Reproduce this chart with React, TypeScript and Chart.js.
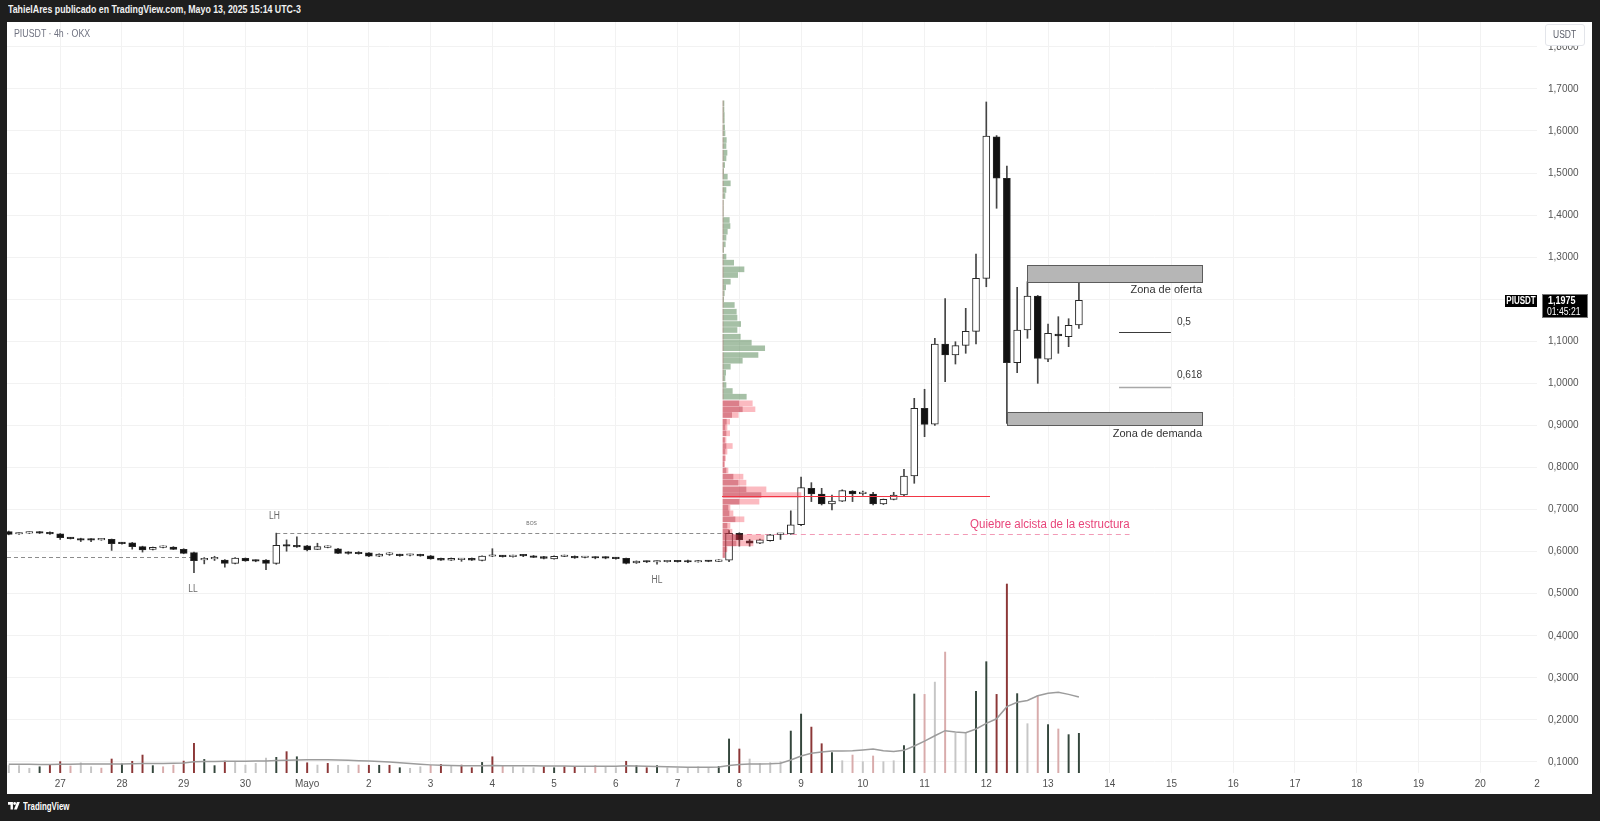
import React, { useEffect, useRef } from 'react';
import { Chart, registerables } from 'chart.js';

Chart.register(...registerables);

const SANS = "'Liberation Sans', Arial, sans-serif";

// ---------- axes ----------
// time axis: days counted from 27 Apr 2025 00:00 (UTC-3)
const xTickDays = [0, 1, 2, 3, 4, 5, 6, 7, 8, 9, 10, 11, 12, 13, 14, 15, 16, 17, 18, 19, 20, 21, 22, 23, 23.92];
const xTickLabels = ['27', '28', '29', '30', 'Mayo', '2', '3', '4', '5', '6', '7', '8', '9', '10', '11', '12', '13', '14', '15', '16', '17', '18', '19', '20', '2'];
const yTickValues = [0.1, 0.2, 0.3, 0.4, 0.5, 0.6, 0.7, 0.8, 0.9, 1.0, 1.1, 1.2, 1.3, 1.4, 1.5, 1.6, 1.7, 1.8];
const X_MIN = -0.8617;
const X_MAX = 23.9197;
const Y_MIN = 0.07385;
const Y_MAX = 1.85898;
const VOL_AXIS_MAX = 397.4;

// ---------- 4h candles (oldest first) ----------
const FIRST_CANDLE_DAY = -5 / 6; // 26 Apr 20:00
const CANDLE_STEP_DAY = 1 / 6; // 4 hours

const open = [
  0.6475, 0.6420, 0.6440, 0.6470, 0.6460, 0.6425, 0.6325, 0.6310, 0.6290, 0.6280,
  0.6290, 0.6210, 0.6210, 0.6120, 0.6055, 0.6100, 0.6110, 0.6055, 0.5975, 0.5805,
  0.5830, 0.5800, 0.5720, 0.5840, 0.5795, 0.5800, 0.5720, 0.6150, 0.6140, 0.6140,
  0.6055, 0.6100, 0.6070, 0.5985, 0.5980, 0.5970, 0.5890, 0.5935, 0.5925, 0.5915,
  0.5930, 0.5900, 0.5840, 0.5800, 0.5810, 0.5840, 0.5790, 0.5890, 0.5900, 0.5880,
  0.5915, 0.5895, 0.5880, 0.5830, 0.5885, 0.5890, 0.5860, 0.5865, 0.5860, 0.5850,
  0.5840, 0.5735, 0.5770, 0.5755, 0.5760, 0.5775, 0.5790, 0.5755, 0.5775, 0.5770,
  0.5800, 0.6435, 0.6260, 0.6200, 0.6260, 0.6410, 0.6420, 0.6640, 0.7505, 0.7370,
  0.7133, 0.7200, 0.7440, 0.7380, 0.7370, 0.7133, 0.7244, 0.7347, 0.7800, 0.9407,
  0.9030, 1.0936, 1.0676, 1.0904, 1.1237, 1.2497, 1.5863, 1.4875, 1.0492, 1.1268,
  1.2076, 1.0573, 1.1173, 1.1109, 1.1387,
];
const high = [
  0.6490, 0.6450, 0.6470, 0.6480, 0.6470, 0.6430, 0.6340, 0.6320, 0.6310, 0.6310,
  0.6300, 0.6220, 0.6220, 0.6130, 0.6110, 0.6140, 0.6120, 0.6070, 0.5990, 0.5860,
  0.5890, 0.5810, 0.5860, 0.5850, 0.5805, 0.5810, 0.6440, 0.6280, 0.6350, 0.6150,
  0.6200, 0.6140, 0.6080, 0.6000, 0.6000, 0.5980, 0.5950, 0.5980, 0.5940, 0.5940,
  0.5940, 0.5910, 0.5850, 0.5850, 0.5840, 0.5850, 0.5900, 0.6070, 0.5910, 0.5920,
  0.5930, 0.5910, 0.5890, 0.5900, 0.5920, 0.5900, 0.5890, 0.5880, 0.5880, 0.5860,
  0.5850, 0.5780, 0.5780, 0.5780, 0.5790, 0.5790, 0.5800, 0.5790, 0.5790, 0.5810,
  0.6500, 0.6450, 0.6290, 0.6300, 0.6410, 0.6435, 0.6970, 0.7770, 0.7640, 0.7505,
  0.7347, 0.7470, 0.7450, 0.7440, 0.7410, 0.7250, 0.7410, 0.7957, 0.9645, 0.9860,
  1.1070, 1.2017, 1.0990, 1.1784, 1.3074, 1.6689, 1.5890, 1.5167, 1.2283, 1.2417,
  1.2090, 1.1410, 1.1585, 1.1537, 1.2417,
];
const low = [
  0.6400, 0.6410, 0.6430, 0.6430, 0.6410, 0.6290, 0.6300, 0.6240, 0.6240, 0.6270,
  0.6030, 0.6180, 0.6060, 0.5990, 0.6040, 0.6090, 0.6050, 0.5950, 0.5500, 0.5710,
  0.5790, 0.5630, 0.5710, 0.5770, 0.5760, 0.5570, 0.5700, 0.6010, 0.6100, 0.6020,
  0.6050, 0.6090, 0.5950, 0.5940, 0.5940, 0.5880, 0.5880, 0.5910, 0.5890, 0.5900,
  0.5890, 0.5820, 0.5790, 0.5790, 0.5770, 0.5790, 0.5780, 0.5880, 0.5870, 0.5870,
  0.5880, 0.5860, 0.5830, 0.5820, 0.5880, 0.5840, 0.5850, 0.5830, 0.5830, 0.5820,
  0.5710, 0.5720, 0.5740, 0.5700, 0.5750, 0.5750, 0.5740, 0.5750, 0.5760, 0.5765,
  0.5760, 0.6130, 0.6130, 0.6190, 0.6250, 0.6290, 0.6410, 0.6620, 0.7190, 0.7110,
  0.6990, 0.7190, 0.7190, 0.7340, 0.7110, 0.7120, 0.7230, 0.7330, 0.7625, 0.8733,
  0.9000, 1.0040, 1.0460, 1.0715, 1.0936, 1.2297, 1.4162, 0.9050, 1.0254, 1.1072,
  1.0001, 1.0516, 1.0715, 1.0872, 1.1309,
];
const close = [
  0.6412, 0.6435, 0.6455, 0.6440, 0.6420, 0.6330, 0.6310, 0.6270, 0.6275, 0.6295,
  0.6190, 0.6190, 0.6120, 0.6040, 0.6100, 0.6120, 0.6055, 0.5960, 0.5785, 0.5825,
  0.5845, 0.5720, 0.5850, 0.5780, 0.5775, 0.5720, 0.6150, 0.6130, 0.6115, 0.6040,
  0.6120, 0.6120, 0.5960, 0.5960, 0.5950, 0.5890, 0.5940, 0.5955, 0.5905, 0.5935,
  0.5900, 0.5830, 0.5800, 0.5840, 0.5830, 0.5800, 0.5895, 0.5905, 0.5880, 0.5915,
  0.5900, 0.5865, 0.5840, 0.5890, 0.5905, 0.5850, 0.5875, 0.5850, 0.5845, 0.5835,
  0.5720, 0.5775, 0.5755, 0.5770, 0.5775, 0.5760, 0.5755, 0.5775, 0.5765, 0.5795,
  0.6435, 0.6280, 0.6200, 0.6280, 0.6400, 0.6430, 0.6640, 0.7520, 0.7370, 0.7133,
  0.7204, 0.7450, 0.7370, 0.7395, 0.7133, 0.7244, 0.7347, 0.7798, 0.9407, 0.9027,
  1.0936, 1.0676, 1.0896, 1.1237, 1.2497, 1.5880, 1.4875, 1.0492, 1.1268, 1.2076,
  1.0596, 1.1190, 1.1126, 1.1380, 1.1975,
];

// volume (millions) and its tone in the picture
const volume = [
  4.0, 3.9, 2.5, 3.3, 4.2, 6.0, 3.7, 5.4, 3.3, 2.6,
  7.4, 4.8, 6.2, 9.5, 3.9, 3.3, 4.2, 6.3, 15.7, 7.2,
  3.9, 6.3, 6.2, 4.2, 5.1, 7.9, 8.3, 11.3, 8.6, 5.4,
  4.2, 5.1, 4.1, 4.1, 4.2, 4.1, 4.1, 4.1, 2.8, 2.5,
  3.3, 4.1, 4.6, 3.7, 4.2, 2.8, 5.6, 8.6, 3.9, 3.3,
  2.8, 2.8, 3.3, 2.8, 3.3, 3.3, 2.8, 3.9, 3.2, 2.8,
  6.2, 3.9, 2.8, 3.9, 2.8, 2.5, 2.8, 3.3, 2.8, 3.5,
  18.0, 12.7, 7.4, 5.0, 5.5, 6.0, 22.2, 31.2, 24.3, 15.5,
  10.8, 6.5, 9.5, 6.0, 9.0, 6.0, 6.5, 14.5, 41.8, 41.6,
  48.1, 64.0, 21.0, 21.3, 43.2, 58.9, 41.6, 100.0, 42.0, 26.1,
  41.1, 25.6, 23.3, 20.3, 21.0,
];
const volumeTone = [
  'l', 'l', 'l', 'd', 'r', 'r', 'p', 'l', 'l', 'p',
  'r', 'd', 'r', 'r', 'd', 'p', 'p', 'r', 'r', 'd',
  'd', 'r', 'l', 'l', 'l', 'l', 'd', 'r', 'd', 'r',
  'l', 'r', 'l', 'l', 'p', 'r', 'd', 'r', 'd', 'l',
  'l', 'p', 'r', 'l', 'r', 'r', 'd', 'r', 'p', 'l',
  'l', 'l', 'r', 'd', 'r', 'r', 'l', 'p', 'l', 'l',
  'r', 'd', 'r', 'd', 'l', 'l', 'l', 'l', 'l', 'd',
  'd', 'r', 'l', 'l', 'l', 'l', 'd', 'd', 'r', 'r',
  'd', 'l', 'p', 'l', 'p', 'l', 'l', 'd', 'd', 'p',
  'l', 'p', 'l', 'l', 'd', 'd', 'r', 'r', 'd', 'l',
  'p', 'd', 'p', 'd', 'd',
];
const volumeMA = [
  4.6, 4.6, 4.6, 4.5, 4.5, 4.6, 4.6, 4.7, 4.7, 4.7,
  4.8, 4.8, 4.9, 5.0, 5.0, 5.0, 5.1, 5.3, 5.9, 6.1,
  6.1, 6.2, 6.2, 6.2, 6.3, 6.4, 6.6, 6.8, 6.9, 7.0,
  7.0, 7.0, 6.9, 6.8, 6.5, 6.3, 6.1, 5.8, 5.4, 5.0,
  4.6, 4.3, 4.1, 4.0, 3.9, 3.9, 3.9, 4.0, 3.9, 3.9,
  3.8, 3.8, 3.7, 3.7, 3.7, 3.6, 3.6, 3.6, 3.6, 3.6,
  3.8, 3.7, 3.6, 3.5, 3.3, 3.2, 3.1, 3.1, 3.1, 3.2,
  4.0, 4.5, 4.7, 4.8, 4.9, 5.2, 6.9, 9.0, 10.4, 11.1,
  11.6, 11.6, 11.8, 12.2, 12.7, 11.8, 11.4, 12.0, 14.3, 16.9,
  19.7, 22.4, 21.7, 21.3, 23.3, 26.3, 28.7, 35.1, 37.4, 38.4,
  40.9, 42.2, 42.7, 41.6, 40.2,
];

// ---------- fixed range volume profile ----------
const profilePrice = [
  1.6657, 1.6514, 1.6379, 1.6244, 1.6086, 1.5944, 1.5785, 1.5642, 1.5483, 1.5350,
  1.5190, 1.5048, 1.4913, 1.4755, 1.4597, 1.4454, 1.4295, 1.4161, 1.4026, 1.3883,
  1.3740, 1.3605, 1.3463, 1.3305, 1.3170, 1.3011, 1.2869, 1.2711, 1.2576, 1.2417,
  1.2283, 1.2141, 1.1998, 1.1863, 1.1704, 1.1561, 1.1411, 1.1269, 1.1109, 1.0967,
  1.0834, 1.0674, 1.0539, 1.0397, 1.0254, 1.0120, 0.9961, 0.9818, 0.9683, 0.9526,
  0.9384, 0.9248, 0.9089, 0.8956, 0.8813, 0.8654, 0.8511, 0.8376, 0.8219, 0.8080,
  0.7930, 0.7782, 0.7639, 0.7482, 0.7347, 0.7188, 0.7045, 0.6912, 0.6769, 0.6617,
  0.6474, 0.6341, 0.6198, 0.6056, 0.5920,
];
const profileTotal = [
  1.0, 1.0, 1.3, 1.3, 1.7, 2.0, 3.3, 3.0, 4.0, 3.0,
  1.7, 0.7, 4.3, 7.3, 3.0, 2.0, 0.4, 0.4, 0.4, 6.3,
  7.0, 4.3, 3.0, 2.3, 0.7, 3.0, 10.7, 21.0, 14.7, 7.3,
  2.7, 1.3, 0.7, 11.3, 13.3, 14.0, 17.7, 14.0, 17.3, 28.3,
  41.7, 35.0, 19.3, 7.3, 2.7, 2.0, 3.0, 9.3, 23.3, 29.3,
  32.0, 15.3, 6.7, 4.0, 6.7, 3.0, 9.3, 4.0, 2.5, 1.5,
  5.0, 20.0, 23.0, 43.0, 78.0, 36.0, 7.0, 10.0, 21.0, 7.0,
  9.0, 41.0, 30.0, 4.0, 2.0,
];
const profileInner = [
  0, 0, 0, 0, 0, 0, 0, 0, 0, 0,
  0, 0, 0, 0, 0, 0, 0, 0, 0, 0,
  0, 0, 0, 0, 0, 0, 0, 0, 0, 0,
  0, 0, 0, 0, 0, 0, 0, 0, 0, 0,
  0, 0, 0, 0, 0, 0, 0, 0, 0, 15.7,
  19.3, 8.7, 3.3, 2.0, 3.0, 1.5, 3.0, 2.0, 1.5, 1.0,
  3.0, 10.0, 15.0, 23.0, 38.0, 16.0, 5.0, 6.0, 12.0, 4.0,
  6.0, 15.0, 13.0, 3.0, 1.5,
];
const PROFILE_GREEN_ABOVE = 0.96;
const PROFILE_ANCHOR_PX = 716; // left edge of the profile, canvas px

// ---------- drawings ----------
const llLine = { from: X_MIN, to: 2.1667, price: 0.5866 };
const bosLine = { from: 3.5, to: 10.8, price: 0.6435 };
const breakLine = { from: 10.83, to: 17.32, price: 0.642 };
const pocLine = { from: 10.72, to: 15.06, price: 0.733 };
const supplyZone = { from: 15.667, to: 18.494, low: 1.2417, high: 1.2813 };
const demandZone = { from: 15.333, to: 18.494, low: 0.901, high: 0.9327 };
const fibLevels = [
  { label: '0,5', price: 1.123, from: 17.15, to: 17.99, textPrice: 1.1466 },
  { label: '0,618', price: 0.992, from: 17.15, to: 17.99, textPrice: 1.02 },
];
const swingLabels = [
  { text: 'LH', day: 3.47, price: 0.684 },
  { text: 'LL', day: 2.15, price: 0.5117 },
  { text: 'HL', day: 9.667, price: 0.531 },
];
const bosLabel = { text: 'BOS', day: 7.635, price: 0.667 };
const breakLabel = { text: 'Quiebre alcista de la estructura', price: 0.665 };
const supplyLabel = { text: 'Zona de oferta', price: 1.2224 };
const demandLabel = { text: 'Zona de demanda', price: 0.8804 };
const countdown = '01:45:21';

const TONE: Record<string, string> = { d: '#34463c', r: '#8c3737', l: '#c6c6c6', p: '#d8abab' };
const GRID = '#f2f2f2';

const fmtPrice = (v: number) => v.toFixed(4).replace('.', ',');

function condensed(ctx: CanvasRenderingContext2D, text: string, x: number, y: number, factor: number) {
  const w = ctx.measureText(text).width;
  ctx.fillText(text, x, y, w * factor);
}

const drawingsPlugin = {
  id: 'drawings',
  beforeDatasetsDraw(chart: any) {
    const { ctx, chartArea: a } = chart;
    const X = (d: number) => chart.scales.x.getPixelForValue(d);
    const Y = (p: number) => Math.round(chart.scales.y.getPixelForValue(p)) + 0.5;
    ctx.save();
    ctx.beginPath();
    ctx.rect(a.left, a.top, a.right - a.left, a.bottom - a.top);
    ctx.clip();
    ctx.lineWidth = 1;
    ctx.strokeStyle = '#8c8c8c';
    ctx.setLineDash([4, 3]);
    for (const l of [llLine, bosLine]) {
      ctx.beginPath();
      ctx.moveTo(X(l.from), Y(l.price));
      ctx.lineTo(X(l.to), Y(l.price));
      ctx.stroke();
    }
    ctx.strokeStyle = '#f29ab6';
    ctx.setLineDash([5, 4]);
    ctx.beginPath();
    ctx.moveTo(X(breakLine.from), Y(breakLine.price));
    ctx.lineTo(X(breakLine.to), Y(breakLine.price));
    ctx.stroke();
    ctx.restore();
  },
  afterDatasetsDraw(chart: any) {
    const { ctx } = chart;
    const X = (d: number) => chart.scales.x.getPixelForValue(d);
    const Yr = (p: number) => chart.scales.y.getPixelForValue(p);
    const Y = (p: number) => Math.round(Yr(p)) + 0.5;
    ctx.save();
    // POC line
    ctx.strokeStyle = '#f23645';
    ctx.lineWidth = 1;
    ctx.beginPath();
    ctx.moveTo(X(pocLine.from), Y(pocLine.price));
    ctx.lineTo(X(pocLine.to), Y(pocLine.price));
    ctx.stroke();
    // zones
    for (const z of [supplyZone, demandZone]) {
      const x0 = Math.round(X(z.from)) + 0.5;
      const x1 = Math.round(X(z.to)) + 0.5;
      const y0 = Y(z.high);
      const y1 = Y(z.low);
      ctx.fillStyle = '#b6b6b6';
      ctx.fillRect(x0, y0, x1 - x0, y1 - y0);
      ctx.strokeStyle = '#5c5c5c';
      ctx.strokeRect(x0, y0, x1 - x0, y1 - y0);
    }
    // fib levels
    fibLevels.forEach((f, i) => {
      ctx.strokeStyle = i === 0 ? '#3a3a3a' : '#a8a8a8';
      ctx.lineWidth = i === 0 ? 1 : 1.5;
      ctx.beginPath();
      ctx.moveTo(X(f.from), Y(f.price));
      ctx.lineTo(X(f.to), Y(f.price));
      ctx.stroke();
      ctx.fillStyle = '#3a3a3a';
      ctx.font = `11px ${SANS}`;
      ctx.textAlign = 'left';
      ctx.textBaseline = 'middle';
      condensed(ctx, f.label, X(f.to) + 6, Yr(f.textPrice), 0.92);
    });
    // labels
    ctx.textBaseline = 'middle';
    ctx.textAlign = 'center';
    ctx.fillStyle = '#6a6a6a';
    ctx.font = `10px ${SANS}`;
    for (const s of swingLabels) condensed(ctx, s.text, X(s.day), Yr(s.price), 0.85);
    ctx.font = `5px ${SANS}`;
    ctx.fillText(bosLabel.text, X(bosLabel.day), Yr(bosLabel.price));
    ctx.textAlign = 'right';
    ctx.fillStyle = '#e8457a';
    ctx.font = `12px ${SANS}`;
    condensed(ctx, breakLabel.text, X(breakLine.to), Yr(breakLabel.price), 0.96);
    ctx.fillStyle = '#333333';
    ctx.font = `11px ${SANS}`;
    ctx.fillText(supplyLabel.text, X(supplyZone.to), Yr(supplyLabel.price));
    ctx.fillText(demandLabel.text, X(demandZone.to), Yr(demandLabel.price));
    ctx.restore();
  },
  afterDraw(chart: any) {
    const { ctx, chartArea: a } = chart;
    const lastPrice = close[close.length - 1];
    const yp = Math.round(chart.scales.y.getPixelForValue(lastPrice));
    ctx.save();
    // symbol tag
    ctx.fillStyle = '#000000';
    ctx.fillRect(a.right - 32, yp - 5, 32, 12);
    ctx.fillStyle = '#ffffff';
    ctx.font = `bold 10px ${SANS}`;
    ctx.textAlign = 'center';
    ctx.textBaseline = 'middle';
    condensed(ctx, 'PIUSDT', a.right - 16, yp + 1.5, 0.8);
    // price tag
    ctx.fillStyle = '#000000';
    ctx.fillRect(a.right + 5, yp - 6, 46, 24);
    ctx.strokeStyle = '#777777';
    ctx.lineWidth = 1;
    ctx.strokeRect(a.right + 5.5, yp - 5.5, 45, 23);
    ctx.fillStyle = '#ffffff';
    ctx.textAlign = 'left';
    ctx.font = `bold 10px ${SANS}`;
    condensed(ctx, fmtPrice(lastPrice), a.right + 11, yp + 1.5, 0.9);
    ctx.font = `10px ${SANS}`;
    condensed(ctx, countdown, a.right + 10, yp + 12.5, 0.86);
    ctx.restore();
  },
};

function TvLogo() {
  return (
    <svg width="12" height="8" viewBox="0 0 17 11" style={{ display: 'block' }}>
      <path d="M0 0H7V10.5H3.6V3.6H0Z" fill="#ffffff" />
      <circle cx="9.4" cy="2" r="2" fill="#ffffff" />
      <path d="M12.6 0H16.8L12.6 10.5H8.5Z" fill="#ffffff" />
    </svg>
  );
}

const squeeze = (f: number): React.CSSProperties => ({
  display: 'inline-block',
  transform: `scaleX(${f})`,
  transformOrigin: 'left center',
  whiteSpace: 'nowrap',
});

export default function App() {
  const canvasRef = useRef<HTMLCanvasElement | null>(null);

  useEffect(() => {
    const canvas = canvasRef.current;
    if (!canvas) return;
    const candleX = open.map((_, i) => FIRST_CANDLE_DAY + i * CANDLE_STEP_DAY);
    const tickFont = { family: SANS, size: 10 };

    const chart = new Chart(canvas, {
      type: 'bar',
      data: {
        datasets: [
          {
            type: 'bar',
            label: 'profile-inner',
            indexAxis: 'y',
            xAxisID: 'xp',
            yAxisID: 'y',
            data: profilePrice.map((p, i) => ({ y: p, x: [0, profileInner[i]] })),
            backgroundColor: 'rgba(175,45,65,0.42)',
            barThickness: 5,
            grouped: false,
            order: 0,
          },
          {
            type: 'bar',
            label: 'profile-total',
            indexAxis: 'y',
            xAxisID: 'xp',
            yAxisID: 'y',
            data: profilePrice.map((p, i) => ({ y: p, x: [0, profileTotal[i]] })),
            backgroundColor: profilePrice.map((p) =>
              p > PROFILE_GREEN_ABOVE ? 'rgba(92,140,92,0.55)' : 'rgba(242,54,69,0.34)'
            ),
            barThickness: 5,
            grouped: false,
            order: 1,
          },
          {
            type: 'bar',
            label: 'bodies',
            xAxisID: 'x',
            yAxisID: 'y',
            data: candleX.map((x, i) => ({ x, y: [open[i], close[i]] })),
            backgroundColor: candleX.map((_, i) => (close[i] >= open[i] ? '#ffffff' : '#111111')),
            borderColor: '#262626',
            borderWidth: 1,
            borderSkipped: false,
            barThickness: 7,
            minBarLength: 1.5,
            grouped: false,
            order: 2,
          },
          {
            type: 'bar',
            label: 'wicks',
            xAxisID: 'x',
            yAxisID: 'y',
            data: candleX.map((x, i) => ({ x, y: [low[i], high[i]] })),
            backgroundColor: '#454545',
            barThickness: 1,
            grouped: false,
            order: 3,
          },
          {
            type: 'line',
            label: 'volume-ma',
            xAxisID: 'x',
            yAxisID: 'yv',
            data: candleX.map((x, i) => ({ x, y: volumeMA[i] })),
            borderColor: '#9c9c9c',
            borderWidth: 1.5,
            pointRadius: 0,
            tension: 0,
            order: 4,
          },
          {
            type: 'bar',
            label: 'volume',
            xAxisID: 'x',
            yAxisID: 'yv',
            data: candleX.map((x, i) => ({ x, y: volume[i] })),
            backgroundColor: volumeTone.map((t) => TONE[t]),
            barThickness: 1.3,
            grouped: false,
            order: 5,
          },
        ],
      } as any,
      options: {
        animation: false,
        responsive: false,
        maintainAspectRatio: false,
        devicePixelRatio: 1,
        events: [],
        layout: { padding: 0 },
        plugins: { legend: { display: false }, tooltip: { enabled: false }, title: { display: false } },
        scales: {
          x: {
            type: 'linear',
            position: 'bottom',
            min: X_MIN,
            max: X_MAX,
            offset: false,
            afterFit: (s: any) => {
              s.height = 21;
              s.paddingLeft = 0;
              s.paddingRight = 0;
            },
            afterBuildTicks: (s: any) => {
              s.ticks = xTickDays.map((v) => ({ value: v }));
            },
            ticks: {
              autoSkip: false,
              maxRotation: 0,
              padding: 5,
              color: '#505050',
              font: tickFont,
              callback: (_v: any, i: number) => xTickLabels[i],
            },
            grid: {
              offset: false,
              drawTicks: false,
              color: (c: any) => (c.index === xTickDays.length - 1 ? 'rgba(0,0,0,0)' : GRID),
            },
            border: { display: false },
          },
          y: {
            type: 'linear',
            position: 'right',
            min: Y_MIN,
            max: Y_MAX,
            offset: false,
            afterFit: (s: any) => {
              s.width = 55;
              s.paddingTop = 0;
              s.paddingBottom = 0;
            },
            afterBuildTicks: (s: any) => {
              s.ticks = yTickValues.map((v) => ({ value: v }));
            },
            ticks: {
              padding: 11,
              color: '#555555',
              font: tickFont,
              callback: (v: any) => fmtPrice(Number(v)),
            },
            grid: { offset: false, drawTicks: false, color: GRID },
            border: { display: false },
          },
          yv: { type: 'linear', display: false, min: 0, max: VOL_AXIS_MAX, offset: false, grid: { offset: false } },
          xp: {
            type: 'linear',
            display: false,
            min: -PROFILE_ANCHOR_PX,
            max: 1530 - PROFILE_ANCHOR_PX,
            offset: false,
            grid: { offset: false },
          },
        },
      } as any,
      plugins: [drawingsPlugin as any],
    });
    return () => chart.destroy();
  }, []);

  return (
    <div style={{ position: 'fixed', left: 0, top: 0, width: 1600, height: 821, background: '#1e1e1e', overflow: 'hidden' }}>
      <div style={{ position: 'absolute', left: 8, top: 3, height: 16, lineHeight: '16px', color: '#f2f2f2', font: `bold 11px ${SANS}` }}>
        <span style={squeeze(0.8)}>TahielAres publicado en TradingView.com, Mayo 13, 2025 15:14 UTC-3</span>
      </div>
      <div style={{ position: 'absolute', left: 7, top: 22, width: 1585, height: 772, background: '#ffffff' }}>
        <canvas ref={canvasRef} width={1585} height={772} style={{ display: 'block', width: 1585, height: 772 }} />
        <div style={{ position: 'absolute', left: 7, top: 5, lineHeight: '13px', font: `11px ${SANS}`, color: '#6f7280' }}>
          <span style={squeeze(0.8)}>PIUSDT · 4h · OKX</span>
        </div>
        <div
          style={{
            position: 'absolute',
            left: 1538,
            top: 2,
            width: 40,
            height: 22,
            boxSizing: 'border-box',
            border: '1px solid #e3e5ea',
            borderRadius: 3,
            background: '#ffffff',
            color: '#5d606b',
            font: `10px ${SANS}`,
            lineHeight: '20px',
            textAlign: 'center',
          }}
        >
          <span style={{ display: 'inline-block', transform: 'scaleX(0.85)' }}>USDT</span>
        </div>
      </div>
      <div style={{ position: 'absolute', left: 8, top: 799, height: 14, display: 'flex', alignItems: 'center', gap: 3 }}>
        <TvLogo />
        <span style={{ color: '#ffffff', font: `bold 11px ${SANS}`, lineHeight: '14px' }}>
          <span style={squeeze(0.72)}>TradingView</span>
        </span>
      </div>
    </div>
  );
}
